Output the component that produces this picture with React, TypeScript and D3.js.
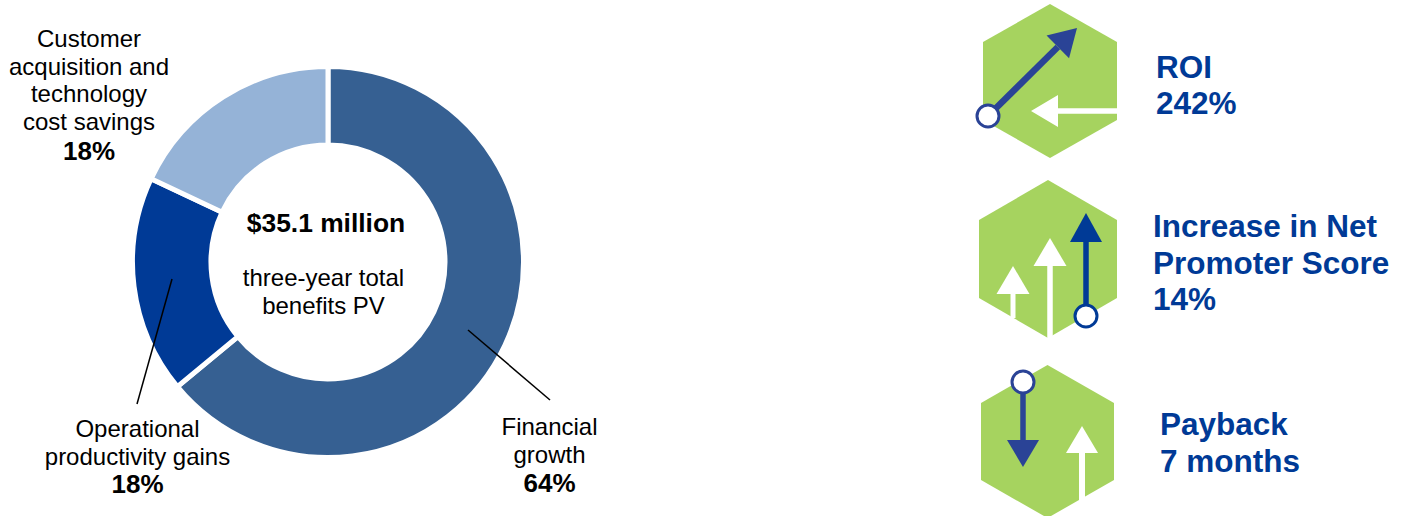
import React from "react";
import * as d3 from "d3";

// Share of the three-year total benefits PV
const benefitNames = ["Financial growth", "Operational productivity gains", "Customer acquisition and technology cost savings"];
const benefitShares = [64, 18, 18];
const benefitColors = ["#366092", "#003A96", "#95B3D7"];

const FONT = "'Liberation Sans', Arial, sans-serif";
const GREEN = "#A6D35F";
const NAVY = "#2A4396";
const BLUE = "#003A96";

type Pt = [number, number];

const polygon = d3.line<Pt>().curve(d3.curveLinearClosed);

function hexagon(cx: number, top: number, bottom: number, half: number, shoulder: number) {
  const pts: Pt[] = [
    [cx, top],
    [cx + half, top + shoulder],
    [cx + half, bottom - shoulder],
    [cx, bottom],
    [cx - half, bottom - shoulder],
    [cx - half, top + shoulder],
  ];
  return <path d={polygon(pts) ?? ""} fill={GREEN} />;
}

// An arrow made of a straight shaft and a triangular head; direction follows tail -> tip.
function Arrow({ tail, tip, headLen, headHalf, width, color }: {
  tail: Pt; tip: Pt; headLen: number; headHalf: number; width: number; color: string;
}) {
  const dx = tip[0] - tail[0];
  const dy = tip[1] - tail[1];
  const len = Math.hypot(dx, dy);
  const ux = dx / len;
  const uy = dy / len;
  const bx = tip[0] - ux * headLen;
  const by = tip[1] - uy * headLen;
  const head: Pt[] = [
    tip,
    [bx - uy * headHalf, by + ux * headHalf],
    [bx + uy * headHalf, by - ux * headHalf],
  ];
  return (
    <g>
      <line x1={tail[0]} y1={tail[1]} x2={bx} y2={by} stroke={color} strokeWidth={width} />
      <path d={polygon(head) ?? ""} fill={color} />
    </g>
  );
}

function Marker({ cx, cy, r, color }: { cx: number; cy: number; r: number; color: string }) {
  return <circle cx={cx} cy={cy} r={r} fill="#fff" stroke={color} strokeWidth={3} />;
}

// Centred or left-aligned block of text; the last row can carry a larger bold figure.
function Lines({ x, ys, rows, size, fill, boldSize, boldLast = false, anchor = "middle" }: {
  x: number; ys: number[]; rows: string[]; size: number; fill: string;
  boldSize?: number; boldLast?: boolean; anchor?: string;
}) {
  return (
    <text fontFamily={FONT} fontSize={size} fill={fill} textAnchor={anchor}>
      {rows.map((r, i) => {
        const last = boldLast && i === rows.length - 1;
        return (
          <tspan key={r} x={x} y={ys[i]} fontWeight={last ? "bold" : undefined}
            fontSize={last && boldSize ? boldSize : undefined}>{r}</tspan>
        );
      })}
    </text>
  );
}

export default function App() {
  const cx = 328;
  const cy = 262;
  const pie = d3.pie<number>().sort(null)(benefitShares);
  const arc = d3.arc<d3.PieArcDatum<number>>().innerRadius(117).outerRadius(195.5);

  return (
    <svg width={1405} height={516} viewBox="0 0 1405 516"
      style={{ position: "absolute", left: 0, top: 0, background: "#fff" }}>
      {/* donut */}
      <g transform={`translate(${cx},${cy})`}>
        {pie.map((d, i) => (
          <path key={benefitNames[i]} d={arc(d) ?? ""} fill={benefitColors[i]} stroke="#fff" strokeWidth={5} />
        ))}
      </g>
      <line x1={468} y1={330} x2={550} y2={400} stroke="#000" strokeWidth={1.5} />
      <line x1={172} y1={279} x2={137} y2={404} stroke="#000" strokeWidth={1.5} />

      {/* centre text */}
      <text x={326} y={232} textAnchor="middle" fontFamily={FONT} fontSize={26.4} fontWeight="bold" fill="#000">$35.1 million</text>
      <Lines x={323.5} ys={[286, 314]} rows={["three-year total", "benefits PV"]} size={24} fill="#000" />

      {/* slice labels */}
      <Lines x={89} ys={[47, 75, 102, 130, 160]}
        rows={["Customer", "acquisition and", "technology", "cost savings", `${benefitShares[2]}%`]}
        size={24} boldSize={26} boldLast fill="#000" />
      <Lines x={137.5} ys={[437, 465, 493]}
        rows={["Operational", "productivity gains", `${benefitShares[1]}%`]}
        size={24} boldSize={26} boldLast fill="#000" />
      <Lines x={549.5} ys={[435, 463, 492]}
        rows={["Financial", "growth", `${benefitShares[0]}%`]}
        size={24} boldSize={26} boldLast fill="#000" />

      {/* ROI badge */}
      {hexagon(1050, 4, 158, 67, 38)}
      <Arrow tail={[988, 116]} tip={[1077, 28]} headLen={27} headHalf={16} width={6.5} color={NAVY} />
      <Marker cx={988} cy={116} r={11} color={NAVY} />
      <Arrow tail={[1117, 111]} tip={[1031, 111]} headLen={27} headHalf={16} width={5.5} color="#fff" />

      {/* Net Promoter Score badge */}
      {hexagon(1048, 180, 338, 69, 40)}
      <Arrow tail={[1013, 318]} tip={[1013, 266]} headLen={28} headHalf={16.5} width={5} color="#fff" />
      <Arrow tail={[1050, 340]} tip={[1050, 238]} headLen={28} headHalf={16.5} width={5.5} color="#fff" />
      <Arrow tail={[1086, 316]} tip={[1086, 213]} headLen={29} headHalf={16} width={5.5} color={BLUE} />
      <Marker cx={1086} cy={316} r={11} color={BLUE} />

      {/* Payback badge */}
      {hexagon(1047.5, 365, 518, 66.5, 38)}
      <Arrow tail={[1023, 382]} tip={[1023, 467]} headLen={27} headHalf={16} width={5.5} color={NAVY} />
      <Marker cx={1023} cy={382} r={11} color={NAVY} />
      <Arrow tail={[1082, 518]} tip={[1082, 426]} headLen={27} headHalf={16} width={6} color="#fff" />

      {/* headline figures */}
      <g fontWeight="bold">
        <Lines x={1156} ys={[78, 114]} rows={["ROI", "242%"]} size={31.5} fill={BLUE} anchor="start" />
        <Lines x={1153} ys={[237, 274, 310]} rows={["Increase in Net", "Promoter Score", "14%"]} size={31.5} fill={BLUE} anchor="start" />
        <Lines x={1160} ys={[435, 472]} rows={["Payback", "7 months"]} size={31.5} fill={BLUE} anchor="start" />
      </g>
    </svg>
  );
}
